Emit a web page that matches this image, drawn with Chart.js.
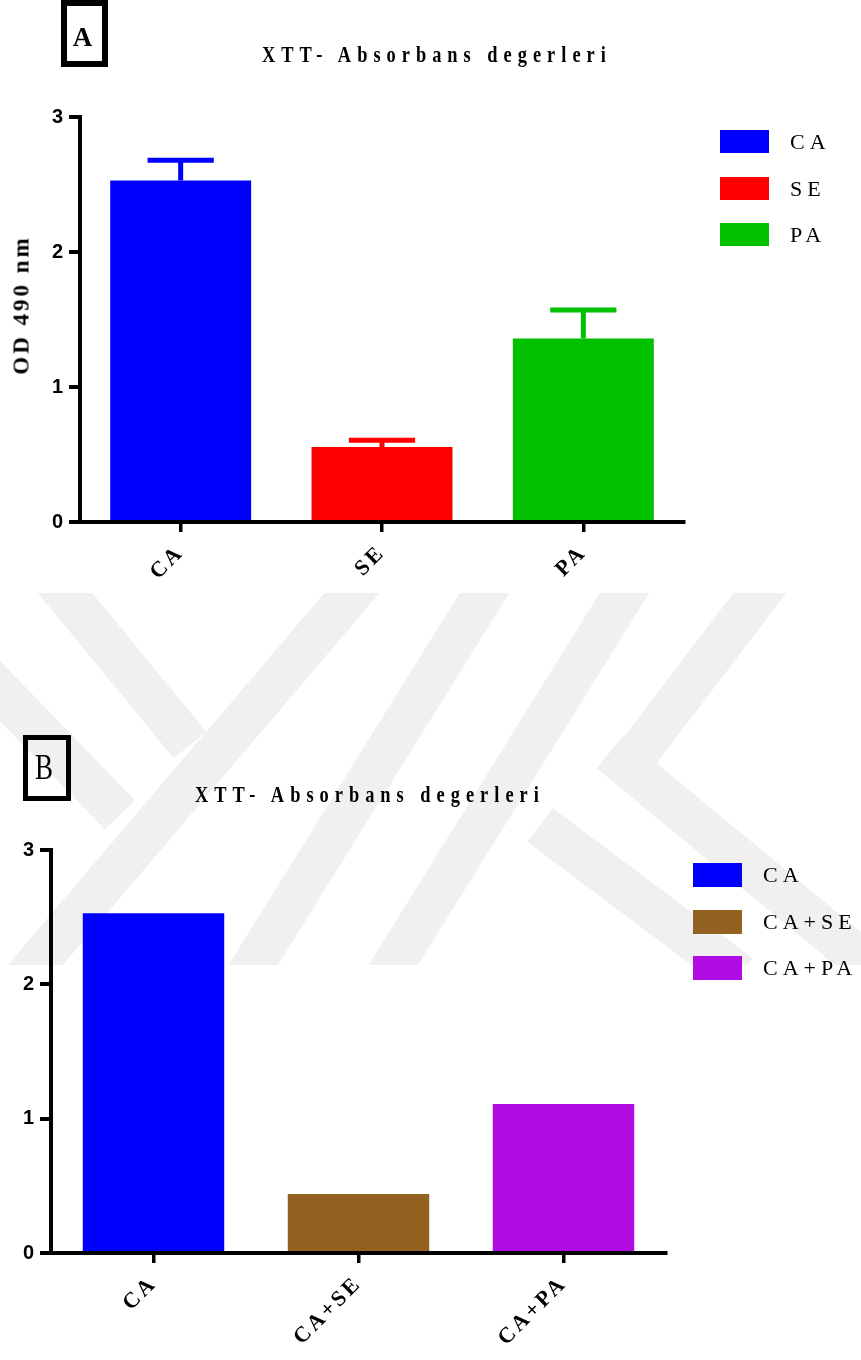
<!DOCTYPE html>
<html>
<head>
<meta charset="utf-8">
<script src="https://cdn.jsdelivr.net/npm/chart.js@4.4.1/dist/chart.umd.min.js"></script>
<style>
html,body{margin:0;padding:0;background:#fff;}
#page{position:relative;width:861px;height:1360px;overflow:hidden;background:#fff;}
#wm{position:absolute;left:0;top:0;}
canvas{position:absolute;left:0;}
.box{position:absolute;border:6px solid #000;box-sizing:border-box;}
.txt{position:absolute;font-family:'Liberation Serif',serif;white-space:nowrap;color:#000;}
.ttl{font-weight:bold;font-size:23px;line-height:23px;letter-spacing:7.5px;transform-origin:0 0;transform:scaleX(0.8);}
.lg{position:absolute;}
.lgt{font-size:22px;line-height:24px;letter-spacing:5px;}
#yt{font-weight:bold;font-size:23px;line-height:23px;letter-spacing:3px;transform:translate(-50%,-50%) rotate(-90deg);}
</style>
</head>
<body>
<div id="page">
  <svg id="wm" width="861" height="1360">
    <defs><clipPath id="wc"><rect x="0" y="593" width="861" height="372"/></clipPath></defs>
    <g clip-path="url(#wc)" stroke="#f0f0f0" stroke-width="42" fill="none" stroke-linecap="butt">
      <line x1="38" y1="560" x2="190" y2="745"/>
      <line x1="-30" y1="660" x2="120" y2="815"/>
      <line x1="380" y1="560" x2="-20" y2="1030"/>
      <line x1="505" y1="560" x2="247" y2="975"/>
      <line x1="645" y1="560" x2="387" y2="975"/>
      <line x1="785" y1="560" x2="625" y2="770"/>
      <line x1="610" y1="752" x2="880" y2="975"/>
      <line x1="540" y1="825" x2="740" y2="975"/>
    </g>
  </svg>
  <canvas id="cA" width="861" height="680" style="top:0;width:861px;height:680px"></canvas>
  <canvas id="cB" width="861" height="680" style="top:680px;width:861px;height:680px"></canvas>

  <div class="box" style="left:61px;top:0;width:47px;height:67px;border-width:6px"></div>
  <div class="txt" style="left:62px;top:24px;width:41px;text-align:center;font-weight:bold;font-size:27px;line-height:27px">A</div>
  <div class="box" style="left:23px;top:735px;width:48px;height:66px;border-width:5px"></div>
  <div class="txt" style="left:24px;top:749px;width:40px;text-align:center;font-size:36px;line-height:36px;transform:scaleX(0.75)">B</div>

  <div id="tA" class="txt ttl" style="left:262px;top:43px"></div>
  <div id="tB" class="txt ttl" style="left:195px;top:783px"></div>
  <div id="yt" class="txt" style="left:21px;top:305px"></div>
  <div id="legA"></div>
  <div id="legB"></div>
</div>
<script>
// ---------- data ----------
const titleText = 'XTT- Absorbans degerleri';
const yAxisTitle = 'OD 490 nm';
const yTickValues = [0, 1, 2, 3];

const categoriesA = ['CA', 'SE', 'PA'];
const meansA = [2.53, 0.555, 1.36];
const errorsA = [0.15, 0.05, 0.21];
const colorsA = ['#0000ff', '#ff0000', '#00c000'];

const categoriesB = ['CA', 'CA+SE', 'CA+PA'];
const meansB = [2.53, 0.44, 1.11];
const colorsB = ['#0000ff', '#936120', '#b00ce2'];

// ---------- text overlays ----------
document.getElementById('tA').textContent = titleText;
document.getElementById('tB').textContent = titleText;
document.getElementById('yt').textContent = yAxisTitle;

function buildLegend(el, cats, colors, left, tops, textLeft, h) {
  cats.forEach((c, i) => {
    const b = document.createElement('div');
    b.className = 'lg';
    b.style.cssText = `left:${left}px;top:${tops[i]}px;width:49px;height:${h}px;background:${colors[i]}`;
    el.appendChild(b);
    const t = document.createElement('div');
    t.className = 'txt lgt';
    t.style.cssText = `left:${textLeft}px;top:${tops[i]}px;`;
    t.textContent = c;
    el.appendChild(t);
  });
}
buildLegend(document.getElementById('legA'), categoriesA, colorsA, 720, [130, 177, 223], 790, 23);
buildLegend(document.getElementById('legB'), categoriesB, colorsB, 693, [863, 910, 956], 763, 24);

// ---------- plugins ----------
const spacingPlugin = {
  id: 'spacing',
  beforeLayout(c) { c.ctx.letterSpacing = '3px'; },
  beforeDraw(c) { c.ctx.letterSpacing = '3px'; }
};
const errPlugin = {
  id: 'err',
  afterDatasetsDraw(chart, args, opts) {
    if (!opts || !opts.values) return;
    const ctx = chart.ctx;
    const meta = chart.getDatasetMeta(0);
    const ds = chart.data.datasets[0];
    const ys = chart.scales.y;
    meta.data.forEach((bar, i) => {
      const e = opts.values[i];
      if (e == null) return;
      const yt = ys.getPixelForValue(ds.data[i] + e);
      const half = bar.width * opts.capRatio / 2;
      ctx.save();
      ctx.strokeStyle = ds.backgroundColor[i];
      ctx.lineWidth = opts.lineWidth;
      ctx.beginPath();
      ctx.moveTo(bar.x, bar.y);
      ctx.lineTo(bar.x, yt);
      ctx.moveTo(bar.x - half, yt);
      ctx.lineTo(bar.x + half, yt);
      ctx.stroke();
      ctx.restore();
    });
  }
};

function makeChart(id, cats, vals, colors, errs, g) {
  return new Chart(document.getElementById(id), {
    type: 'bar',
    data: {
      labels: cats,
      datasets: [{
        data: vals,
        backgroundColor: colors,
        borderWidth: 0,
        categoryPercentage: g.catPct,
        barPercentage: 1
      }]
    },
    plugins: [spacingPlugin, errPlugin],
    options: {
      responsive: false,
      animation: false,
      devicePixelRatio: 1,
      layout: { padding: { left: 0, right: 861 - g.right, top: g.top, bottom: 0 } },
      plugins: {
        legend: { display: false },
        title: { display: false },
        tooltip: { enabled: false },
        err: errs ? { values: errs, capRatio: 0.47, lineWidth: 5 } : {}
      },
      scales: {
        x: {
          type: 'category',
          offset: true,
          grid: { display: true, drawOnChartArea: false, drawTicks: true, tickLength: 10, lineWidth: 3.5, color: '#000', offset: false },
          border: { display: true, color: '#000', width: 4 },
          ticks: {
            maxRotation: 45, minRotation: 45, padding: 8, color: '#000',
            font: { family: 'Liberation Serif', weight: 'bold', size: 22 }
          },
          afterFit(s) { s.height = 680 - g.bottom; }
        },
        y: {
          min: 0, max: 3,
          afterBuildTicks(s) { s.ticks = yTickValues.map(v => ({ value: v })); },
          grid: { display: true, drawOnChartArea: false, drawTicks: true, tickLength: 11, lineWidth: 4, color: '#000' },
          border: { display: true, color: '#000', width: 4 },
          ticks: {
            padding: 3, color: '#000',
            font: { family: 'Liberation Sans', weight: 'bold', size: 20 }
          },
          title: { display: false },
          afterFit(s) { s.width = g.left; }
        }
      }
    }
  });
}

makeChart('cA', categoriesA, meansA, colorsA, errorsA,
  { left: 80, right: 684, top: 117, bottom: 522, catPct: 0.7 });
makeChart('cB', categoriesB, meansB, colorsB, null,
  { left: 51, right: 666, top: 170, bottom: 573, catPct: 0.69 });
</script>
</body>
</html>
